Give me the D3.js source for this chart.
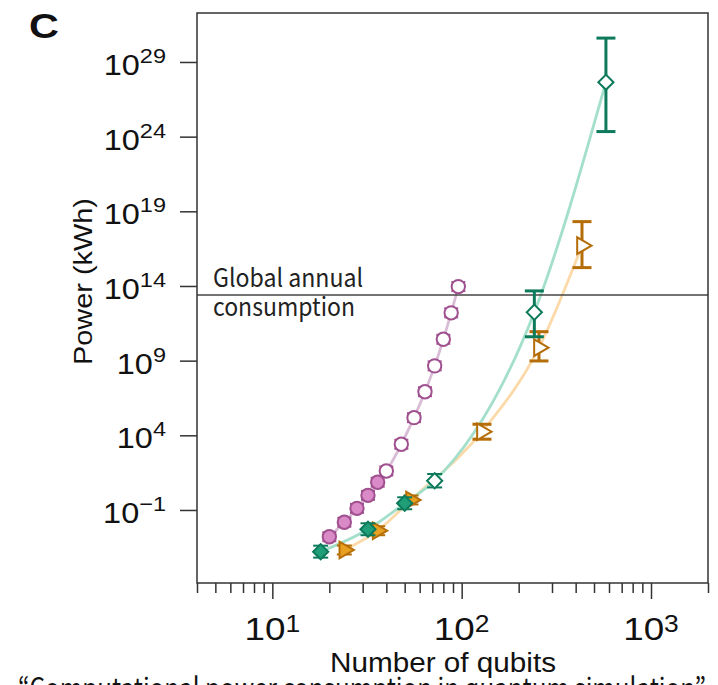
<!DOCTYPE html>
<html>
<head>
<meta charset="utf-8">
<script src="https://cdn.jsdelivr.net/npm/d3@7"></script>
<style>
  body { margin: 0; background: #fff; }
  svg { display: block; }
</style>
</head>
<body>
<div id="viz"></div>
<script>
// data (y values are log10 of kWh)
var purpleN   = [20, 24, 28, 32, 36, 40, 48, 56, 64, 72, 80, 88, 96],
    purpleLog = [-2.79, -1.82, -0.89, -0.02, 0.86, 1.61, 3.40, 5.18, 6.92, 8.65, 10.43, 12.2, 13.96],
    purpleErr = [0.3, 0.3, 0.3, 0.3, 0.3, 0.3, 0.3, 0.3, 0.3, 0.3, 0.3, 0.3, 0.3];

var greenN     = [18, 32, 50, 72, 242, 578],
    greenLog   = [-3.79, -2.29, -0.55, 0.96, 12.24, 27.65],
    greenErrLo = [0.4, 0.4, 0.4, 0.45, 1.64, 3.31],
    greenErrHi = [0.4, 0.4, 0.4, 0.45, 1.43, 2.95];

var orangeN     = [24, 36, 54, 128, 256, 432],
    orangeLog   = [-3.68, -2.39, -0.33, 4.24, 9.87, 16.70],
    orangeErrLo = [0.3, 0.3, 0.3, 0.5, 0.89, 1.47],
    orangeErrHi = [0.3, 0.3, 0.3, 0.5, 1.07, 1.61];

var globalAnnualLog = 13.4;

var xMajor = [10, 100, 1000],
    xMinor = [4, 5, 6, 7, 8, 9, 20, 30, 40, 50, 60, 70, 80, 90, 200, 300, 400, 500, 600, 700, 800, 900, 2000],
    yTickExp = [-1, 4, 9, 14, 19, 24, 29];

var W = 718, H = 685;
var pl = 197, pr = 708, pt = 13, pb = 583;

var svg = d3.select('#viz').append('svg')
    .attr('width', W)
    .attr('height', H);

var x = d3.scaleLog().domain([4, 2000]).range([pl, pr]);
var y = d3.scaleLog().domain([Math.pow(10, -5.89), Math.pow(10, 32.28)]).range([pb, pt]);
function yl(e) { return y(Math.pow(10, e)); }

var axisColor = '#333';

// fit curves
var line = d3.line()
    .x(function(d) { return x(d[0]); })
    .y(function(d) { return yl(d[1]); })
    .curve(d3.curveMonotoneX);

function fitLine(ns, vs, color) {
    svg.append('path')
        .datum(d3.zip(ns, vs))
        .attr('d', line)
        .attr('fill', 'none')
        .attr('stroke', color)
        .attr('stroke-width', 2.8);
}
fitLine(purpleN, purpleLog, '#d9bdd6');
fitLine(orangeN, orangeLog, '#fcd9a8');
fitLine(greenN, greenLog, '#a3dfca');

// global annual consumption
svg.append('line')
    .attr('x1', pl).attr('x2', pr)
    .attr('y1', yl(globalAnnualLog)).attr('y2', yl(globalAnnualLog))
    .attr('stroke', '#444')
    .attr('stroke-width', 1.5);

svg.append('text')
    .attr('x', 213).attr('y', yl(globalAnnualLog) - 8)
    .attr('font-family', 'Noto Sans CJK JP')
    .attr('font-size', 25)
    .attr('textLength', 150).attr('lengthAdjust', 'spacingAndGlyphs')
    .attr('fill', '#222')
    .text('Global annual');
svg.append('text')
    .attr('x', 213).attr('y', yl(globalAnnualLog) + 21)
    .attr('font-family', 'Noto Sans CJK JP')
    .attr('font-size', 25)
    .attr('textLength', 142).attr('lengthAdjust', 'spacingAndGlyphs')
    .attr('fill', '#222')
    .text('consumption');

// error bars + markers
function series(ns, vs, lo, hi, opt) {
    var g = svg.append('g');
    var pts = d3.range(ns.length).map(function(i) {
        return {n: ns[i], v: vs[i], lo: vs[i] - lo[i], hi: vs[i] + hi[i], i: i};
    });
    pts.forEach(function(p) {
        var big = p.i >= opt.bigFrom;
        var cw = big ? 9.5 : opt.cap;
        var sw = big ? 3 : 2;
        var cx = x(p.n);
        g.append('line')
            .attr('x1', cx).attr('x2', cx)
            .attr('y1', yl(p.lo)).attr('y2', yl(p.hi))
            .attr('stroke', opt.stroke).attr('stroke-width', sw);
        [p.lo, p.hi].forEach(function(e) {
            g.append('line')
                .attr('x1', cx - cw).attr('x2', cx + cw)
                .attr('y1', yl(e)).attr('y2', yl(e))
                .attr('stroke', opt.stroke).attr('stroke-width', sw);
        });
    });
    g.selectAll('path.mk')
        .data(pts)
        .enter().append('path')
        .attr('class', 'mk')
        .attr('d', d3.symbol().type(opt.type).size(opt.size))
        .attr('transform', function(d) {
            return 'translate(' + x(d.n) + ',' + yl(d.v) + ') rotate(' + opt.rot + ')';
        })
        .attr('fill', function(d) { return d.i < opt.filledCount ? opt.fill : '#fff'; })
        .attr('stroke', opt.stroke)
        .attr('stroke-width', 2);
}

series(purpleN, purpleLog, purpleErr, purpleErr, {
    type: d3.symbolCircle, size: 140, rot: 0, cap: 7,
    stroke: '#a0508f', fill: '#da8bc7', filledCount: 5, bigFrom: 99
});
series(orangeN, orangeLog, orangeErrLo, orangeErrHi, {
    type: d3.symbolTriangle, size: 120, rot: 90, cap: 7.5,
    stroke: '#b56d07', fill: '#e8a020', filledCount: 3, bigFrom: 3
});
series(greenN, greenLog, greenErrLo, greenErrHi, {
    type: d3.symbolSquare, size: 115, rot: 45, cap: 7.5,
    stroke: '#0d7a5b', fill: '#1f9e78', filledCount: 3, bigFrom: 4
});

// frame
svg.append('rect')
    .attr('x', pl).attr('y', pt)
    .attr('width', pr - pl).attr('height', pb - pt)
    .attr('fill', 'none')
    .attr('stroke', axisColor)
    .attr('stroke-width', 1.5);

// x axis ticks
var gx = svg.append('g').attr('transform', 'translate(0,' + pb + ')');
gx.append('g').call(d3.axisBottom(x).tickValues(xMinor).tickSize(10).tickFormat(''));
gx.append('g').call(d3.axisBottom(x).tickValues(xMajor).tickSize(16).tickFormat(''));
gx.selectAll('.domain').remove();
gx.selectAll('line').attr('stroke', axisColor).attr('stroke-width', 1.5);

// y axis ticks
var gy = svg.append('g').attr('transform', 'translate(' + pl + ',0)');
gy.call(d3.axisLeft(y).tickValues(yTickExp.map(function(e) { return Math.pow(10, e); }))
    .tickSize(17).tickFormat(''));
gy.selectAll('.domain').remove();
gy.selectAll('line').attr('stroke', axisColor).attr('stroke-width', 1.5);

var fam = 'Liberation Sans, Arial, Helvetica, sans-serif';

// x tick labels
xMajor.forEach(function(v) {
    var t = svg.append('text')
        .attr('transform', 'translate(' + x(v) + ',640) scale(1.15,1)')
        .attr('text-anchor', 'middle')
        .attr('font-family', fam)
        .attr('fill', '#111');
    t.append('tspan').attr('font-size', 32).text('10');
    t.append('tspan').attr('font-size', 23).attr('dy', -8.5).text(Math.round(Math.log10(v)));
});

// y tick labels
yTickExp.forEach(function(e) {
    var t = svg.append('text')
        .attr('transform', 'translate(166,' + (yl(e) + 13) + ') scale(1.12,1)')
        .attr('text-anchor', 'end')
        .attr('font-family', fam)
        .attr('fill', '#111');
    t.append('tspan').attr('font-size', 29).text('10');
    t.append('tspan').attr('font-size', 21).attr('dy', -12).text(e < 0 ? '\u2212' + (-e) : e);
});

// axis titles
svg.append('text')
    .attr('x', 443).attr('y', 672)
    .attr('text-anchor', 'middle')
    .attr('font-family', fam)
    .attr('font-size', 27)
    .attr('textLength', 226).attr('lengthAdjust', 'spacingAndGlyphs')
    .attr('fill', '#111')
    .text('Number of qubits');

svg.append('text')
    .attr('transform', 'translate(92,' + 281.5 + ') rotate(-90)')
    .attr('text-anchor', 'middle')
    .attr('font-family', fam)
    .attr('font-size', 26)
    .attr('textLength', 167).attr('lengthAdjust', 'spacingAndGlyphs')
    .attr('fill', '#111')
    .text('Power (kWh)');

// panel letter
svg.append('text')
    .attr('transform', 'translate(29,38) scale(1.15,1)')
    .attr('font-family', fam)
    .attr('font-weight', 'bold')
    .attr('font-size', 36)
    .attr('fill', '#111')
    .text('C');

// caption line cut off by the bottom edge
svg.append('text')
    .attr('x', 18).attr('y', 698)
    .attr('font-family', 'Noto Sans CJK JP')
    .attr('font-size', 28)
    .attr('textLength', 688).attr('lengthAdjust', 'spacingAndGlyphs')
    .attr('fill', '#111')
    .text('\u201CComputational power consumption in quantum simulation\u201D');
</script>
</body>
</html>
